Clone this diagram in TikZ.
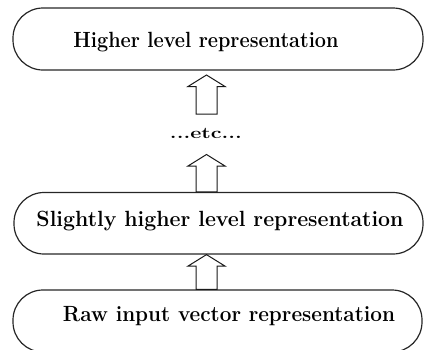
\documentclass[tikz,border=0pt]{standalone}
\usepackage{fontspec}
\usetikzlibrary{calc}
\tikzset{
  box/.style={draw=black!85, line width=1.2pt, rounded corners=30pt, inner sep=0pt},
  lbl/.style={inner sep=0pt, anchor=base, font=\fontsize{22}{26}\selectfont\bfseries},
  etclbl/.style={inner sep=0pt, anchor=base, font=\fontsize{16}{19}\selectfont\bfseries},
  blk/.style={draw=black!90, line width=1pt, fill=white, line join=miter},
}
\newcommand\blockarrow[2]{%
  \draw[blk] let \p1=(#1), \p2=(#2) in
    (\x2,\y2) -- (\x2+18.5pt,\y2-11.5pt) -- (\x2+10.5pt,\y2-11.5pt) -- (\x2+10.5pt,\y1)
    -- (\x2-10.5pt,\y1) -- (\x2-10.5pt,\y2-11.5pt) -- (\x2-18.5pt,\y2-11.5pt) -- cycle;}
\begin{document}
\begin{tikzpicture}[x=1pt,y=-1pt]
  \useasboundingbox (0,0) rectangle (424,349);
  \clip (0,0) rectangle (424,349);
  % boxes
  \node[box, minimum width=410pt, minimum height=62pt] (b1) at (218,39) {};
  \node[box, minimum width=409pt, minimum height=61.5pt] (b2) at (218.5,223.25) {};
  \node[box, minimum width=409pt, minimum height=62pt] (b3) at (217.5,321) {};
  % labels
  \node[lbl] (t1) at (206,47.7) {\resizebox{265pt}{\height}{Higher level representation}};
  \node[lbl] (t2) at (220,226) {\resizebox{367pt}{\height}{Slightly higher level representation}};
  \node[lbl] (t3) at (229,321.7) {\resizebox{332pt}{\height}{Raw input vector representation}};
  \node[etclbl] (etc) at (206,138) {\resizebox{72pt}{\height}{...etc...}};
  % arrow end points
  \coordinate (a1top) at (206.5,75);
  \coordinate (a1bot) at (206.5,114);
  \coordinate (a2top) at (206.5,154.5);
  \coordinate (a3top) at (a1top |- b2.south);
  % block arrows
  \blockarrow{a1bot}{a1top}
  \blockarrow{b2.north}{a2top}
  \blockarrow{b3.north}{a3top}
\end{tikzpicture}
\end{document}
